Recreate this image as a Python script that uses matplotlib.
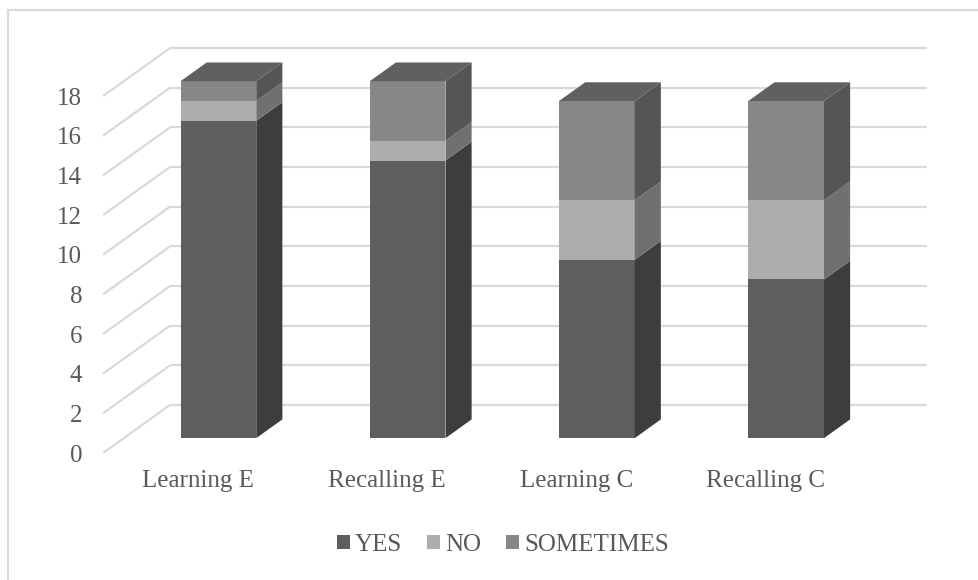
import matplotlib
matplotlib.use("Agg")
import matplotlib.pyplot as plt
from matplotlib.patches import Polygon, Rectangle, Patch
from matplotlib.lines import Line2D

plt.rcParams['font.family'] = ['Liberation Serif', 'DejaVu Serif']

categories = ['Learning E', 'Recalling E', 'Learning C', 'Recalling C']
series = ['YES', 'NO', 'SOMETIMES']
yes = [16, 14, 9, 8]
no = [1, 1, 3, 4]
sometimes = [1, 3, 5, 5]
yticks = list(range(0, 19, 2))

front_col = {'YES': '#5e5e5e', 'NO': '#adadad', 'SOMETIMES': '#878787'}
side_col = {'YES': '#3d3d3d', 'NO': '#707070', 'SOMETIMES': '#555555'}
top_col = '#606060'
grid_col = '#d9d9d9'
text_col = '#595959'

W, H = 979, 580
fig = plt.figure(figsize=(W / 100, H / 100), dpi=100)

# outer chart border (right and bottom edges fall outside the image)
fig.add_artist(Line2D([8 / W, 8 / W], [0, 1 - 10 / H], color=grid_col, lw=1.5))
fig.add_artist(Line2D([8 / W, 1], [1 - 10 / H, 1 - 10 / H], color=grid_col, lw=1.5))

# front plane of the floor: x from -0.5..3.5, y from 0..18
left, right = 103, 860
bottom, top = 453, 453 - 18 * 19.83
ax = fig.add_axes([left / W, 1 - bottom / H, (right - left) / W, (bottom - top) / H])
ax.set_xlim(-0.5, 3.5)
ax.set_ylim(0, 18)
ax.patch.set_visible(False)
for s in ax.spines.values():
    s.set_visible(False)

# oblique depth offset for the full floor depth (data units)
DX = 67 / 189.25
DY = 48 / 19.83
t_front, t_back = 0.31, 0.70
bw = 0.4

# side-wall diagonals and back-wall gridlines
for v in yticks:
    ax.plot([-0.5, -0.5 + DX], [v, v + DY], color=grid_col, lw=1.6,
            clip_on=False, zorder=1, solid_capstyle='butt')
    ax.plot([-0.5 + DX, 3.5 + DX], [v + DY, v + DY], color=grid_col, lw=1.6,
            clip_on=False, zorder=1, solid_capstyle='butt')

values = {'YES': yes, 'NO': no, 'SOMETIMES': sometimes}
fx = DX * t_front
fy = DY * t_front
bx = DX * (t_back - t_front)
by = DY * (t_back - t_front)

for i, cat in enumerate(categories):
    x0 = i - bw / 2 + fx
    x1 = i + bw / 2 + fx
    base = 0
    for name in series:
        h = values[name][i]
        y0 = base + fy
        y1 = base + h + fy
        ax.add_patch(Rectangle((x0, y0), bw, h, facecolor=front_col[name],
                               edgecolor='none', clip_on=False, zorder=3))
        ax.add_patch(Polygon([(x1, y0), (x1 + bx, y0 + by), (x1 + bx, y1 + by), (x1, y1)],
                             closed=True, facecolor=side_col[name], edgecolor='none',
                             clip_on=False, zorder=3))
        base += h
    yt = base + fy
    ax.add_patch(Polygon([(x0, yt), (x1, yt), (x1 + bx, yt + by), (x0 + bx, yt + by)],
                         closed=True, facecolor=top_col, edgecolor='none',
                         clip_on=False, zorder=3))

ax.set_yticks(yticks)
ax.set_yticklabels([str(v) for v in yticks])
ax.set_xticks(range(len(categories)))
ax.set_xticklabels(categories)
ax.tick_params(axis='y', length=0, pad=15, labelsize=18, labelcolor=text_col)
ax.tick_params(axis='x', length=0, pad=12, labelsize=18, labelcolor=text_col)

handles = [Patch(facecolor=front_col[n], edgecolor='none') for n in series]
leg = fig.legend(handles, series, loc='center', bbox_to_anchor=(503 / W, 35 / H),
                 ncol=3, frameon=False, fontsize=18, handlelength=0.52,
                 handleheight=0.52, handletextpad=0.2, columnspacing=1.0)
for t in leg.get_texts():
    t.set_color(text_col)

fig.savefig('out.png', dpi=100)
